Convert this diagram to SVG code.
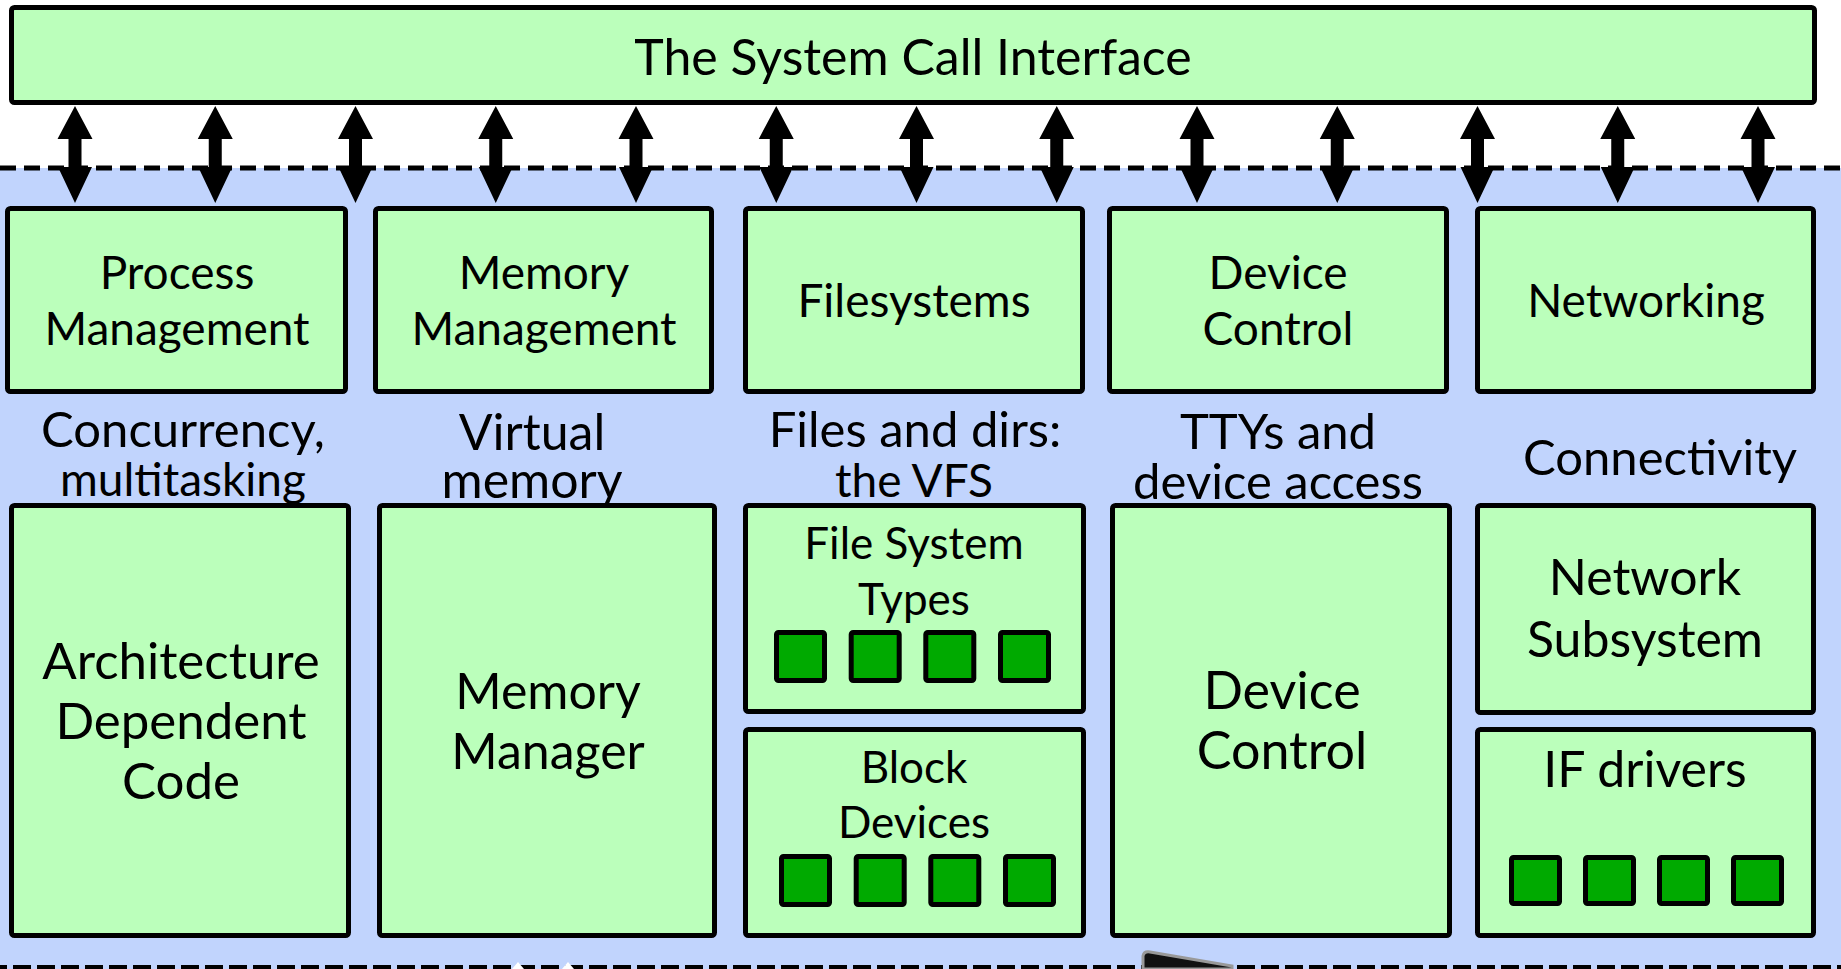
<svg xmlns="http://www.w3.org/2000/svg" width="1841" height="969" viewBox="0 0 1841 969">
<style>
.box{fill:#BBFFBB;stroke:#000;stroke-width:5;}
.sq{fill:#00AA00;stroke:#000;stroke-width:5;}
.t{font-family:Lato,"Open Sans","Liberation Sans",sans-serif;fill:#000;text-anchor:middle;}
.s47{font-size:46px;}
.s49{font-size:49px;}
.s50{font-size:50px;}
.s52{font-size:52px;}
.s44{font-size:44px;}
.dash{stroke:#000;stroke-width:5;fill:none;}
</style>
<defs>
<path id="dbl" d="M0,106 L17.5,139 L6.5,139 L6.5,167 L17,167 L0,203 L-17,167 L-6.5,167 L-6.5,139 L-17.5,139 Z" fill="#000"/>
</defs>
<rect x="0" y="0" width="1841" height="969" fill="#fff"/>
<rect x="0" y="168" width="1841" height="801" fill="#C1D4FD"/>
<line class="dash" x1="0" y1="168" x2="1841" y2="168" stroke-dasharray="16 8"/>
<line class="dash" x1="0" y1="967.5" x2="1841" y2="967.5" stroke-dasharray="18 6" stroke-dashoffset="11"/>

<g id="top-interface">
<rect class="box" x="11.5" y="7.5" width="1803" height="95" rx="3"/>
<text class="t" x="913" y="75" font-size="50">The System Call Interface</text>
</g>

<g id="connectors">
<use href="#dbl" x="75"/>
<use href="#dbl" x="215.25"/>
<use href="#dbl" x="355.5"/>
<use href="#dbl" x="495.75"/>
<use href="#dbl" x="636"/>
<use href="#dbl" x="776.25"/>
<use href="#dbl" x="916.5"/>
<use href="#dbl" x="1056.75"/>
<use href="#dbl" x="1197"/>
<use href="#dbl" x="1337.25"/>
<use href="#dbl" x="1477.5"/>
<use href="#dbl" x="1617.75"/>
<use href="#dbl" x="1758"/>
</g>

<g id="process-management">
<rect class="box" x="7.5" y="208.5" width="338" height="183" rx="3"/>
<text class="t s47" x="177" y="289">Process</text>
<text class="t s47" x="177" y="345">Management</text>
</g>
<g id="memory-management">
<rect class="box" x="375.5" y="208.5" width="336" height="183" rx="3"/>
<text class="t s47" x="544" y="289">Memory</text>
<text class="t s47" x="544" y="345">Management</text>
</g>
<g id="filesystems">
<rect class="box" x="745.5" y="208.5" width="337" height="183" rx="3"/>
<text class="t s47" x="914" y="317">Filesystems</text>
</g>
<g id="device-control">
<rect class="box" x="1109.5" y="208.5" width="337" height="183" rx="3"/>
<text class="t s47" x="1278" y="289">Device</text>
<text class="t s47" x="1278" y="345">Control</text>
</g>
<g id="networking">
<rect class="box" x="1477.5" y="208.5" width="336" height="183" rx="3"/>
<text class="t s47" x="1646" y="317">Networking</text>
</g>

<g id="labels">
<text class="t s49" x="183" y="447">Concurrency,</text>
<text class="t s47" x="183" y="496">multitasking</text>
<text class="t s50" x="532" y="450">Virtual</text>
<text class="t s50" x="532" y="498">memory</text>
<text class="t s49" x="915" y="447">Files and dirs:</text>
<text class="t s47" x="914" y="497">the VFS</text>
<text class="t s49" x="1278" y="449">TTYs and</text>
<text class="t s49" x="1278" y="499">device access</text>
<text class="t s49" x="1660" y="475">Connectivity</text>
</g>

<g id="arch-dependent-code">
<rect class="box" x="11.5" y="505.5" width="337" height="430" rx="3"/>
<text class="t" font-size="51" x="181" y="679">Architecture</text>
<text class="t" font-size="51" x="181" y="739">Dependent</text>
<text class="t" font-size="51" x="181" y="799">Code</text>
</g>
<g id="memory-manager">
<rect class="box" x="379.5" y="505.5" width="335" height="430" rx="3"/>
<text class="t s50" x="548" y="709">Memory</text>
<text class="t s50" x="548" y="769">Manager</text>
</g>
<g id="file-system-types">
<rect class="box" x="745.5" y="505.5" width="338" height="206" rx="3"/>
<text class="t s44" x="914" y="559">File System</text>
<text class="t s44" x="914" y="615">Types</text>
<rect class="sq" x="776.5" y="632.5" width="48" height="48" rx="2"/>
<rect class="sq" x="851.2" y="632.5" width="48" height="48" rx="2"/>
<rect class="sq" x="925.8" y="632.5" width="48" height="48" rx="2"/>
<rect class="sq" x="1000.5" y="632.5" width="48" height="48" rx="2"/>
</g>
<g id="block-devices">
<rect class="box" x="745.5" y="729.5" width="338" height="206" rx="3"/>
<text class="t s44" x="914" y="783">Block</text>
<text class="t s44" x="914" y="838">Devices</text>
<rect class="sq" x="781.5" y="856.5" width="48" height="48" rx="2"/>
<rect class="sq" x="856.2" y="856.5" width="48" height="48" rx="2"/>
<rect class="sq" x="930.8" y="856.5" width="48" height="48" rx="2"/>
<rect class="sq" x="1005.5" y="856.5" width="48" height="48" rx="2"/>
</g>
<g id="device-control-low">
<rect class="box" x="1112.5" y="505.5" width="337" height="430" rx="3"/>
<text class="t s52" x="1282" y="709">Device</text>
<text class="t s52" x="1282" y="769">Control</text>
</g>
<g id="network-subsystem">
<rect class="box" x="1477.5" y="505.5" width="336" height="207" rx="3"/>
<text class="t s50" x="1645" y="595">Network</text>
<text class="t s50" x="1645" y="657">Subsystem</text>
</g>
<g id="if-drivers">
<rect class="box" x="1477.5" y="729.5" width="336" height="206" rx="3"/>
<text class="t s50" x="1645" y="787">IF drivers</text>
<rect class="sq" x="1511.5" y="857.5" width="48" height="46" rx="2"/>
<rect class="sq" x="1585.5" y="857.5" width="48" height="46" rx="2"/>
<rect class="sq" x="1659.5" y="857.5" width="48" height="46" rx="2"/>
<rect class="sq" x="1733.5" y="857.5" width="48" height="46" rx="2"/>
</g>

<g id="bottom-fragments">
<polygon points="512,969 518,962 524,969" fill="#fff"/>
<polygon points="562,969 568,962 574,969" fill="#fff"/>
<path d="M1143,969 L1143,956 Q1144,951 1150,952 L1232,966 L1232,969 Z" fill="#111" stroke="#999" stroke-width="3"/>
</g>
</svg>
